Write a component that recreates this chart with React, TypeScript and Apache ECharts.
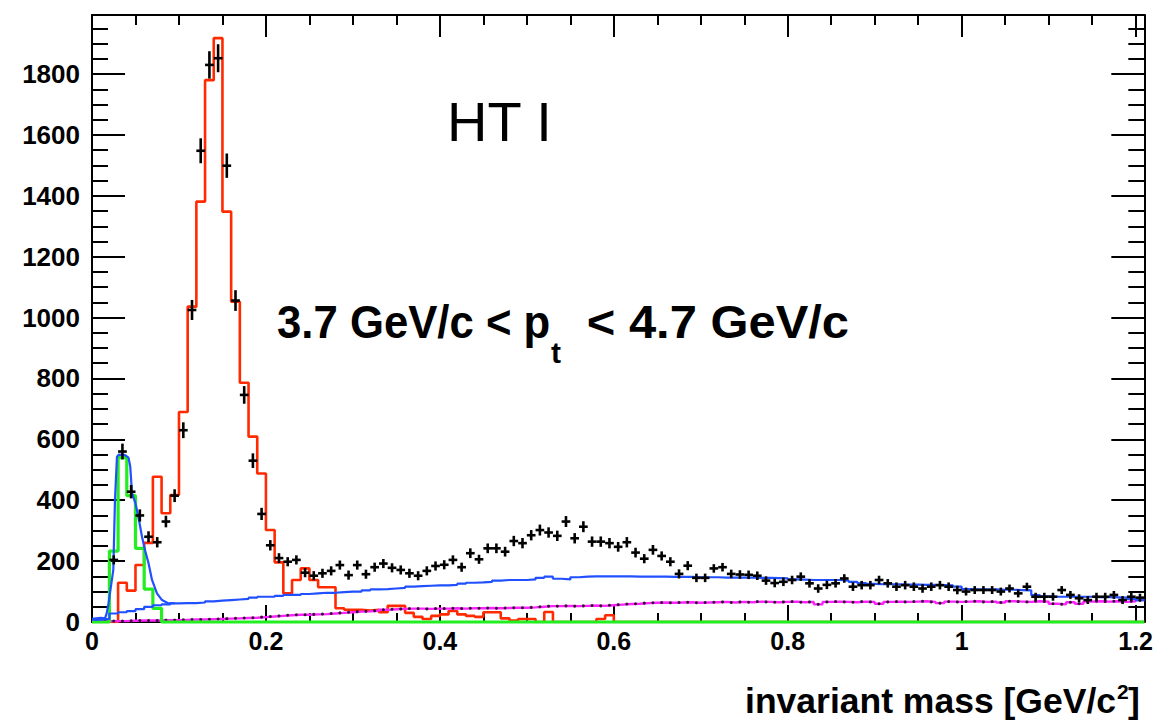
import React, { useEffect, useRef } from 'react';
import * as echarts from 'echarts';

const FONT = '"Liberation Sans", Arial, Helvetica, sans-serif';
const BIN = 0.01;
const X_MAX = 1.21;
const Y_MAX = 1994;

const xTickLabels = ['0', '0.2', '0.4', '0.6', '0.8', '1', '1.2'];
const yTickLabels = ['0', '200', '400', '600', '800', '1000', '1200', '1400', '1600', '1800'];

// black data points (counts per 0.01 bin, starting at 0)
const dataCounts: (number | null)[] = [
  null, null, 204, 560, 428, 350, 280, 262, 330, 415,
  630, 1025, 1548, 1830, 1852, 1499, 1056, 746, 530, 355,
  252, 210, 198, 204, 162, 152, 160, 168, 187, 154,
  187, 157, 180, 192, 178, 171, 160, 152, 168, 184,
  188, 204, 180, 226, 206, 242, 242, 231, 266, 259,
  285, 302, 294, 283, 330, 275, 313, 264, 264, 259,
  247, 262, 228, 208, 237, 217, 198, 158, 185, 145,
  145, 176, 180, 158, 156, 155, 152, 136, 128, 132,
  138, 149, 127, 110, 122, 127, 143, 116, 121, 121,
  138, 127, 116, 121, 116, 110, 116, 121, 116, 105,
  100, 105, 105, 105, 100, 110, 94, 116, 83, 83,
  83, 105, 89, 78, 72, 83, 83, 89, 72, 83, 80,
];

const dataErrors: number[] = [
  0, 0, 15, 26, 22, 20, 18, 17, 19, 21,
  26, 33, 41, 45, 46, 40, 34, 29, 24, 20,
  17, 16, 15, 15, 15, 15, 15, 15, 15, 15,
  15, 15, 15, 15, 15, 15, 15, 15, 15, 15,
  15, 15, 15, 16, 15, 16, 16, 16, 17, 17,
  17, 18, 17, 17, 18, 17, 18, 17, 17, 17,
  16, 17, 16, 15, 16, 15, 15, 15, 15, 14,
  14, 14, 14, 14, 14, 14, 14, 14, 14, 14,
  14, 14, 14, 14, 14, 14, 14, 14, 14, 14,
  14, 14, 14, 14, 14, 14, 14, 14, 14, 14,
  13, 13, 13, 13, 13, 13, 13, 13, 13, 13,
  13, 13, 13, 13, 13, 13, 13, 13, 13, 13, 13,
];

// red histogram
const redHist: number[] = [
  0, 0, 0, 129, 103, 187, 260, 477, 357, 417,
  690, 1036, 1381, 1780, 1918, 1348, 1052, 786, 609, 488,
  302, 196, 94, 138, 176, 138, 114, 114, 45, 40,
  40, 38, 40, 32, 53, 53, 30, 17, 10, 20,
  25, 36, 25, 20, 17, 32, 32, 12, 5, 10,
  10, 0, 33, 0, 0, 0, 0, 0, 10, 22,
  0, 0, 0, 0, 0, 0, 0, 0, 0, 0,
  0, 0, 0, 0, 0, 0, 0, 0, 0, 0,
  0, 0, 0, 0, 0, 0, 0, 0, 0, 0,
  0, 0, 0, 0, 0, 0, 0, 0, 0, 0,
  0, 0, 0, 0, 0, 0, 0, 0, 0, 0,
  0, 0, 0, 0, 0, 0, 0, 0, 0, 0, 0,
];

// green histogram
const greenHist: number[] = [
  0, 0, 233, 540, 415, 242, 108, 45, 0, 0,
  0, 0, 0, 0, 0, 0, 0, 0, 0, 0,
  0, 0, 0, 0, 0, 0, 0, 0, 0, 0,
  0, 0, 0, 0, 0, 0, 0, 0, 0, 0,
  0, 0, 0, 0, 0, 0, 0, 0, 0, 0,
  0, 0, 0, 0, 0, 0, 0, 0, 0, 0,
  0, 0, 0, 0, 0, 0, 0, 0, 0, 0,
  0, 0, 0, 0, 0, 0, 0, 0, 0, 0,
  0, 0, 0, 0, 0, 0, 0, 0, 0, 0,
  0, 0, 0, 0, 0, 0, 0, 0, 0, 0,
  0, 0, 0, 0, 0, 0, 0, 0, 0, 0,
  0, 0, 0, 0, 0, 0, 0, 0, 0, 0, 0,
];

// blue background histogram
const blueHist: number[] = [
  8, 10, 28, 32, 36, 42, 50, 55, 58, 61,
  62, 62, 64, 68, 70, 72, 74, 76, 80, 83,
  83, 86, 89, 89, 92, 94, 96, 96, 98, 100,
  100, 104, 107, 108, 110, 112, 116, 118, 119, 120,
  120, 122, 126, 129, 130, 132, 136, 138, 138, 138,
  140, 145, 149, 142, 140, 147, 149, 150, 150, 150,
  150, 150, 149, 149, 149, 149, 148, 148, 148, 147,
  147, 147, 146, 146, 146, 146, 145, 145, 144, 143,
  140, 139, 138, 138, 138, 138, 136, 132, 128, 125,
  124, 124, 124, 123, 123, 122, 122, 121, 120, 116,
  108, 107, 107, 107, 106, 106, 105, 104, 88, 84,
  83, 83, 83, 83, 83, 82, 82, 81, 80, 76, 72,
];

// blue total curve around the low-mass peak
const bluePeakX: number[] = [0.0, 0.01, 0.015, 0.017, 0.019, 0.0245, 0.0264, 0.0287, 0.031, 0.038, 0.042, 0.044, 0.046, 0.05, 0.054, 0.0575, 0.061, 0.065, 0.069, 0.0747, 0.0805, 0.088, 0.095];
const bluePeakY: number[] = [10, 14, 12, 30, 61, 171, 400, 543, 550, 548, 540, 510, 423, 390, 335, 280, 236, 193, 138, 94, 72, 61, 62];

// magenta histogram
const magentaHist: number[] = [
  3, 3, 3, 3, 4, 5, 5, 5, 6, 6,
  7, 8, 8, 9, 10, 11, 12, 13, 14, 16,
  18, 20, 22, 24, 24, 25, 26, 28, 30, 32,
  34, 35, 37, 40, 42, 43, 44, 44, 43, 44,
  44, 45, 44, 45, 45, 46, 45, 46, 47, 47,
  48, 50, 52, 52, 53, 52, 53, 54, 53, 55,
  57, 59, 60, 62, 63, 64, 63, 64, 65, 63,
  64, 65, 66, 64, 66, 65, 67, 66, 65, 66,
  67, 65, 66, 58, 66, 67, 66, 65, 67, 66,
  60, 66, 67, 66, 67, 68, 66, 62, 67, 66,
  67, 68, 66, 67, 64, 68, 67, 66, 68, 67,
  60, 58, 65, 60, 67, 68, 67, 68, 66, 68, 72,
];

function histPoints(values: number[]): number[][] {
  const pts = values.map((v, i) => [Math.round(i * BIN * 1000) / 1000, v]);
  pts.push([X_MAX, values[values.length - 1]]);
  return pts;
}

function centers(values: (number | null)[]): number[][] {
  const out: number[][] = [];
  values.forEach((v, i) => {
    if (v !== null) out.push([Math.round((i + 0.5) * BIN * 1000) / 1000, v]);
  });
  return out;
}

function txt(x: number, y: number, text: string, size: number, weight: string, align: string, scaleX = 1) {
  return {
    type: 'text', x, y, scaleX,
    style: {
      text, fontFamily: FONT, fontSize: size, fontWeight: weight, fill: '#000',
      textAlign: align, textVerticalAlign: 'middle', align, verticalAlign: 'middle',
    },
  };
}

export default function App() {
  const ref = useRef<HTMLDivElement>(null);

  useEffect(() => {
    document.body.style.margin = '0';
    if (!ref.current) return;
    const chart = echarts.init(ref.current, undefined, { renderer: 'svg' });

    const crossData: number[][] = [];
    dataCounts.forEach((v, i) => {
      if (v !== null) crossData.push([Math.round((i + 0.5) * BIN * 1000) / 1000, v, dataErrors[i]]);
    });

    const xFmt = (v: number) => {
      const k = v / 0.2;
      const r = Math.round(k);
      if (Math.abs(k - r) > 1e-6) return '';
      return xTickLabels[r] ?? '';
    };
    const yFmt = (v: number) => {
      const k = v / 200;
      const r = Math.round(k);
      if (Math.abs(k - r) > 1e-6) return '';
      return yTickLabels[r] ?? '';
    };

    const frameLine = { show: true, onZero: false, lineStyle: { color: '#000', width: 2 } };
    const tickStyle = { color: '#000', width: 2 };

    const option: any = {
      animation: false,
      backgroundColor: '#fff',
      textStyle: { fontFamily: FONT },
      grid: { left: 92, right: 11, top: 15, bottom: 99, containLabel: false },
      xAxis: [
        {
          type: 'value', min: 0, max: X_MAX, interval: 0.2, position: 'bottom',
          axisLine: frameLine,
          axisTick: { show: true, inside: true, length: 17, lineStyle: tickStyle },
          minorTick: { show: true, splitNumber: 4, length: 9, lineStyle: tickStyle },
          splitLine: { show: false }, minorSplitLine: { show: false },
          axisLabel: { show: true, color: '#000', fontFamily: FONT, fontWeight: 'bold', fontSize: 25, margin: 6, formatter: xFmt, showMaxLabel: false },
        },
        {
          type: 'value', min: 0, max: X_MAX, interval: 0.2, position: 'top',
          axisLine: frameLine,
          axisTick: { show: true, inside: true, length: 22, lineStyle: tickStyle },
          minorTick: { show: true, splitNumber: 4, length: 10, lineStyle: tickStyle },
          splitLine: { show: false }, minorSplitLine: { show: false },
          axisLabel: { show: false },
        },
      ],
      yAxis: [
        {
          type: 'value', min: 0, max: Y_MAX, interval: 200, position: 'left',
          axisLine: frameLine,
          axisTick: { show: true, inside: true, length: 33, lineStyle: tickStyle },
          minorTick: { show: true, splitNumber: 4, length: 16, lineStyle: tickStyle },
          splitLine: { show: false }, minorSplitLine: { show: false },
          axisLabel: { show: true, color: '#000', fontFamily: FONT, fontWeight: 'bold', fontSize: 26, margin: 12, formatter: yFmt, showMaxLabel: false },
        },
        {
          type: 'value', min: 0, max: Y_MAX, interval: 200, position: 'right',
          axisLine: frameLine,
          axisTick: { show: true, inside: true, length: 33, lineStyle: tickStyle },
          minorTick: { show: true, splitNumber: 4, length: 16, lineStyle: tickStyle },
          splitLine: { show: false }, minorSplitLine: { show: false },
          axisLabel: { show: false },
        },
      ],
      series: [
        {
          name: 'red', type: 'line', step: 'end', data: histPoints(redHist),
          symbol: 'none', lineStyle: { color: '#ff2a00', width: 2.6 }, z: 3,
        },
        {
          name: 'magenta', type: 'line', step: 'end', data: histPoints(magentaHist),
          symbol: 'none', lineStyle: { color: '#ff22ff', width: 2.4 }, z: 4,
        },
        {
          name: 'magentaDots', type: 'scatter', data: centers(magentaHist),
          symbol: 'circle', symbolSize: 3, itemStyle: { color: '#000' }, z: 5,
        },
        {
          name: 'green', type: 'line', step: 'end', data: histPoints(greenHist),
          symbol: 'none', lineStyle: { color: '#22ee22', width: 3.2 }, z: 6, clip: false,
        },
        {
          name: 'blue', type: 'line', step: 'end', data: histPoints(blueHist),
          symbol: 'none', lineStyle: { color: '#2050ff', width: 2.2 }, z: 7,
        },
        {
          name: 'bluePeak', type: 'line',
          data: bluePeakX.map((x, i) => [x, bluePeakY[i]]),
          symbol: 'none', lineStyle: { color: '#2050ff', width: 2.2 }, z: 7,
        },
        {
          name: 'data', type: 'custom', z: 10,
          data: crossData,
          encode: { x: 0, y: 1 },
          renderItem: (params: any, api: any) => {
            const x = api.value(0);
            const y = api.value(1);
            const e = api.value(2);
            const l = api.coord([x - BIN / 2, y]);
            const r = api.coord([x + BIN / 2, y]);
            const t = api.coord([x, y + e]);
            const b = api.coord([x, y - e]);
            const style = { stroke: '#000', lineWidth: 2.6 };
            return {
              type: 'group',
              children: [
                { type: 'line', shape: { x1: l[0], y1: l[1], x2: r[0], y2: r[1] }, style },
                { type: 'line', shape: { x1: t[0], y1: t[1], x2: b[0], y2: b[1] }, style },
              ],
            };
          },
        },
      ],
      graphic: [
        txt(447, 121, 'HT I', 56, 'normal', 'left'),
        txt(277, 322, '3.7 GeV/c < p', 47, 'bold', 'left', 0.93),
        txt(551, 352, 't', 30, 'bold', 'left'),
        txt(849, 322, '< 4.7 GeV/c', 47, 'bold', 'right', 1.04),
        txt(1116, 701, 'invariant mass [GeV/c', 35.5, 'bold', 'right'),
        txt(1117, 691, '2', 21, 'bold', 'left'),
        txt(1128, 701, ']', 35.5, 'bold', 'left'),
      ],
    };

    chart.setOption(option);
    return () => chart.dispose();
  }, []);

  return (
    <div
      ref={ref}
      style={{ position: 'absolute', left: 0, top: 0, width: 1156, height: 721, background: '#fff' }}
    />
  );
}
